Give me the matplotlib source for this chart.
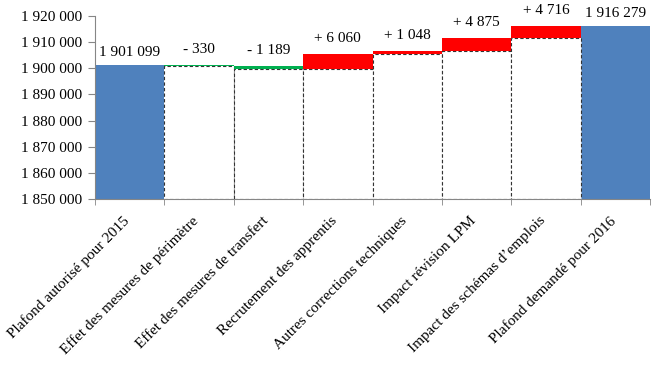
"""
Waterfall : plafond d'emplois 2015 -> 2016
"""
import matplotlib
matplotlib.use('Agg')
import matplotlib.pyplot as plt
from matplotlib.ticker import FuncFormatter, FixedLocator
from matplotlib.transforms import ScaledTranslation
import numpy as np

categories = ['Plafond autorisé pour 2015', 'Effet des mesures de périmètre',
              'Effet des mesures de transfert', 'Recrutement des apprentis',
              'Autres corrections techniques', 'Impact révision LPM',
              'Impact des schémas d\u2019emplois', 'Plafond demandé pour 2016']
start_value = 1901099
deltas = [-330, -1189, 6060, 1048, 4875, 4716]
end_value = 1916279

Y_MIN = 1850000
Y_MAX = 1920000

BLUE = '#4F81BD'
RED = '#FF0000'
GREEN = '#00B050'
AXIS_GREY = '#868686'
FS = 11


def fmt_space(v):
  return '{:,}'.format(int(round(v))).replace(',', ' ')


def fmt_delta(v):
  sign = '+' if v > 0 else '-'
  return sign + ' ' + fmt_space(abs(v))


plt.rcParams['font.family'] = ['Liberation Serif', 'DejaVu Serif']

fig = plt.figure(figsize=(6.53, 3.67), dpi=100)
ax = fig.add_axes([0.145, 0.458, 0.851, 0.498])

x = np.arange(len(categories))
w = 1.0

# first and last bars
ax.bar(x[0], start_value - Y_MIN, bottom=Y_MIN, width=w, color=BLUE,
       linewidth=0)
ax.bar(x[-1], end_value - Y_MIN, bottom=Y_MIN, width=w, color=BLUE,
       linewidth=0)

# intermediate steps
level = start_value
for i, d in enumerate(deltas):
  pos = x[i + 1]
  low = min(level, level + d)
  high = max(level, level + d)
  ax.bar(pos, low - Y_MIN, bottom=Y_MIN, width=w, color='white',
         edgecolor='#333333', linestyle=(0, (3, 2)), linewidth=0.8)
  ax.bar(pos, high - low, bottom=low, width=w,
         color=RED if d > 0 else GREEN, linewidth=0)
  ax.annotate(fmt_delta(d), (pos, high), xytext=(0, 6.5),
              textcoords='offset points', ha='center', va='bottom',
              fontsize=FS)
  level = level + d

for pos, val in [(x[0], start_value), (x[-1], end_value)]:
  ax.annotate(fmt_space(val), (pos, val), xytext=(0, 4.5),
              textcoords='offset points', ha='center', va='bottom',
              fontsize=FS)

ax.set_xlim(-0.5, len(categories) - 0.5)
ax.set_ylim(Y_MIN, Y_MAX)
ax.set_yticks(np.arange(Y_MIN, Y_MAX + 1, 10000))
ax.yaxis.set_major_formatter(FuncFormatter(lambda v, p: fmt_space(v)))

ax.set_xticks(x)
ax.set_xticklabels(categories, rotation=45, ha='right',
                   rotation_mode='anchor', fontsize=FS)
ax.tick_params(axis='x', which='major', length=0, pad=11)
shift = ScaledTranslation(-5 / 72, 0, fig.dpi_scale_trans)
for lab in ax.get_xticklabels():
  lab.set_transform(lab.get_transform() + shift)
ax.xaxis.set_minor_locator(FixedLocator(np.arange(-0.5, len(categories), 1)))
ax.tick_params(axis='x', which='minor', length=4, color=AXIS_GREY,
               direction='out')
ax.tick_params(axis='y', length=5, color=AXIS_GREY, direction='out',
               labelsize=FS, pad=4)

for s in ['top', 'right']:
  ax.spines[s].set_visible(False)
for s in ['left', 'bottom']:
  ax.spines[s].set_color(AXIS_GREY)
  ax.spines[s].set_linewidth(0.8)

fig.savefig('out.png', dpi=100)
